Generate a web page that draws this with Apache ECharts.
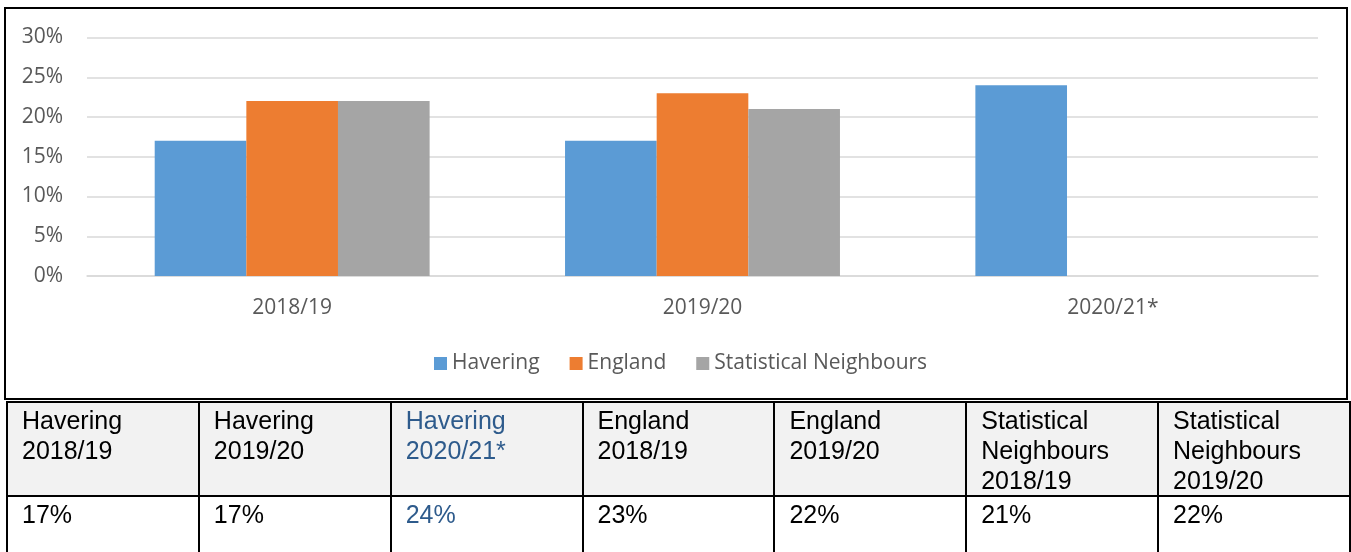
<!DOCTYPE html>
<html>
<head>
<meta charset="utf-8">
<script src="https://cdn.jsdelivr.net/npm/echarts@6/dist/echarts.min.js"></script>
<style>
  html, body { margin: 0; padding: 0; background: #fff; width: 1351px; height: 552px; overflow: hidden; }
  #chart { position: absolute; left: 0; top: 0; width: 1351px; height: 400px; }
  #box { position: absolute; left: 4px; top: 7px; width: 1344px; height: 393px; border: 2px solid #000; box-sizing: border-box; pointer-events: none; }
  #tbl { position: absolute; left: 6px; top: 401px; width: 1345px; border-collapse: collapse; table-layout: fixed;
         font-family: "Liberation Sans", Arial, sans-serif; font-size: 25px; color: #000; }
  #tbl td { border: 2px solid #000; vertical-align: top; padding: 2px 12px 0 14px; line-height: 30px; }
  #tbl tr.h td { background: #f2f2f2; height: 90px; }
  #tbl tr.v td { height: 80px; }
  #tbl td.hl { color: #2e5b8c; }
</style>
</head>
<body>
<div id="chart"></div>
<div id="box"></div>
<table id="tbl"><tbody><tr class="h" id="hrow"></tr><tr class="v" id="vrow"></tr></tbody></table>
<script>
// ---- data ----
var categories = ['2018/19', '2019/20', '2020/21*'];
var havering = [17, 17, 24];
var england = [22, 23, null];
var statNeighbours = [22, 21, null];
var seriesNames = ['Havering', 'England', 'Statistical Neighbours'];
var yTicks = [0, 5, 10, 15, 20, 25, 30];

var tableHeaders = [
  ['Havering', '2018/19'],
  ['Havering', '2019/20'],
  ['Havering', '2020/21*'],
  ['England', '2018/19'],
  ['England', '2019/20'],
  ['Statistical', 'Neighbours', '2018/19'],
  ['Statistical', 'Neighbours', '2019/20']
];
var tableValues = ['17%', '17%', '24%', '23%', '22%', '21%', '22%'];
var highlightCol = 2;

// ---- table ----
var hrow = document.getElementById('hrow');
var vrow = document.getElementById('vrow');
tableHeaders.forEach(function (lines, i) {
  var td = document.createElement('td');
  td.innerHTML = lines.join('<br>');
  if (i === highlightCol) td.className = 'hl';
  hrow.appendChild(td);
});
tableValues.forEach(function (v, i) {
  var td = document.createElement('td');
  td.textContent = v;
  if (i === highlightCol) td.className = 'hl';
  vrow.appendChild(td);
});

// ---- chart ----
var chart = echarts.init(document.getElementById('chart'), null, { renderer: 'canvas' });
var font = '"Open Sans", sans-serif';
var colors = ['#5b9bd5', '#ed7d31', '#a5a5a5'];
var dataSets = [havering, england, statNeighbours];

chart.setOption({
  animation: false,
  color: colors,
  grid: { left: 87, right: 33, top: 37.5, height: 238.5, containLabel: false },
  legend: {
    data: seriesNames,
    left: 434,
    top: 353,
    padding: 0,
    itemWidth: 13,
    itemHeight: 13,
    itemGap: 30,
    icon: 'rect',
    textStyle: { color: '#595959', fontSize: 21, fontFamily: font }
  },
  xAxis: {
    type: 'category',
    data: categories,
    axisLine: { lineStyle: { color: '#d9d9d9', width: 1.5 } },
    axisTick: { show: false },
    axisLabel: { color: '#595959', fontSize: 21, fontFamily: font, margin: 22 }
  },
  yAxis: {
    type: 'value',
    min: yTicks[0],
    max: yTicks[yTicks.length - 1],
    interval: 5,
    axisLine: { show: false },
    axisTick: { show: false },
    splitLine: { lineStyle: { color: '#d9d9d9', width: 1.5 } },
    axisLabel: { color: '#595959', fontSize: 21, fontFamily: font, margin: 24, formatter: '{value}%' }
  },
  series: seriesNames.map(function (name, i) {
    return {
      name: name,
      type: 'bar',
      data: dataSets[i],
      barGap: '0%',
      barCategoryGap: '33%',
      itemStyle: { color: colors[i] }
    };
  })
});
</script>
</body>
</html>
